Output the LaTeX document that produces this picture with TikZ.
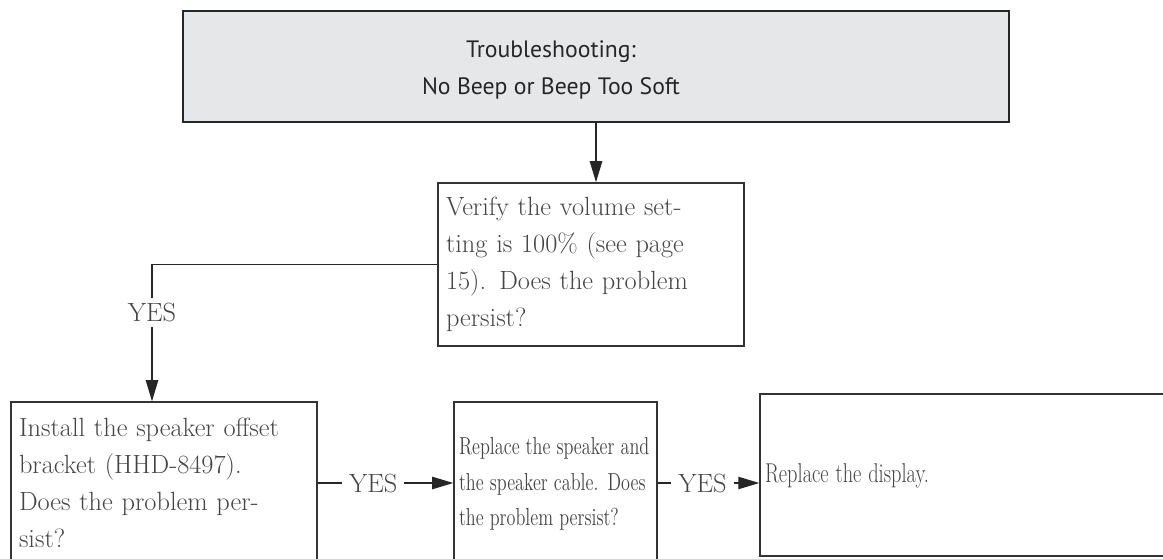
\documentclass[tikz,border=0pt]{standalone}
\usepackage{fontspec}
\setsansfont{PT Sans}
\usepackage{graphicx}
\usepackage{xcolor}
\usepackage{tikz}
\usetikzlibrary{arrows.meta}
\definecolor{boxgray}{HTML}{E6E7E8}
\definecolor{inkgray}{HTML}{444444}
% condensed lines, as in the two right-hand boxes
\newcommand{\narrowlines}[2]{\scalebox{#1}[1]{\begin{tabular}{@{}l@{}}#2\end{tabular}}}

\begin{document}
\begin{tikzpicture}[x=0.02cm,y=-0.02cm,
  titlebox/.style={draw=black!85,line width=1.1pt,fill=boxgray,minimum width=16.52cm,minimum height=2.22cm},
  titletext/.style={align=center,font=\sffamily\fontsize{13.5}{21}\selectfont,text=black!85},
  stepbox/.style={draw=black!80,line width=0.8pt,inner xsep=0.16cm,align=left,text=inkgray,font=\fontsize{15}{21}\selectfont},
  narrowbox/.style={stepbox,inner xsep=0.1cm,font=\fontsize{14}{20}\selectfont},
  yeslabel/.style={fill=white,inner xsep=0.14cm,inner ysep=0.1cm,text=inkgray,font=\fontsize{15}{18}\selectfont},
  flow/.style={line width=0.8pt,draw=black!85,-{Triangle[length=12pt,width=7pt]}}]
\useasboundingbox (0,0) rectangle (1163,558);
\clip (0,0) rectangle (1163,558);
\node[titlebox] (title) at (596,66.5) {};
\node[titletext] (titletext) at (551,70) {Troubleshooting:\\No Beep or Beep Too Soft};
\node[stepbox,text width=5.8cm,minimum height=3.26cm] (verify) at (591,264.5) {Verify the volume set-\\ting is 100\% (see page\\15). Does the problem\\persist?};
\node[stepbox,text width=5.8cm,minimum height=3.24cm] (install) at (164,483) {Install the speaker offset\\bracket (HHD-8497).\\Does the problem per-\\sist?};
\node[narrowbox,text width=3.86cm,minimum height=3.24cm] (speaker) at (555.5,483) {\narrowlines{0.74}{Replace the speaker and\\the speaker cable. Does\\the problem persist?}};
\node[narrowbox,text width=8.2cm,minimum height=3.24cm,font=\fontsize{15.5}{20}\selectfont] (display) at (970,475) {\narrowlines{0.75}{Replace the display.}};
\coordinate (bend) at (152,264.5);
\draw[flow] (title.south) -- (title.south |- verify.north);
\draw[flow] (verify.west) -- (bend) -- node[yeslabel,pos=0.35] {YES} (bend |- install.north);
\draw[flow] (install.east) -- node[yeslabel,pos=0.41] {YES} (speaker.west);
\draw[flow] (speaker.east) -- node[yeslabel,pos=0.44] {YES} (speaker.east -| display.west);
\end{tikzpicture}
\end{document}
